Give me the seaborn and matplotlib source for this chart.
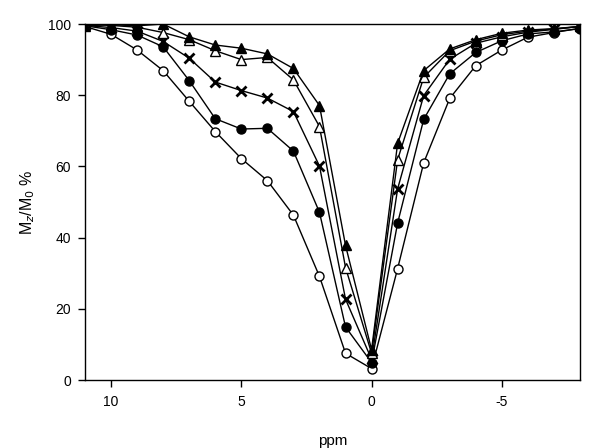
import matplotlib
matplotlib.use("Agg")
import matplotlib.pyplot as plt
import seaborn as sns
import pandas as pd

ppm = [11, 10, 9, 8, 7, 6, 5, 4, 3, 2, 1, 0, -1, -2, -3, -4, -5, -6, -7, -8]
open_circle = [99.3, 97.1, 92.7, 86.9, 78.3, 69.8, 62.2, 56.0, 46.3, 29.1, 7.5, 3.2,
               31.3, 61.0, 79.1, 88.3, 92.7, 96.3, 97.6, 98.8]
filled_circle = [99.5, 98.4, 96.9, 93.6, 84.1, 73.4, 70.5, 70.7, 64.3, 47.1, 14.9, 4.9,
                 44.1, 73.2, 86.0, 92.0, 95.3, 97.2, 97.8, 98.7]
cross = [99.6, 99.0, 98.0, 95.1, 90.4, 83.7, 81.3, 79.2, 75.4, 60.1, 22.7, 5.8,
         53.7, 79.9, 90.1, 94.6, 96.4, 97.7, 98.5, 99.3]
open_triangle = [100.0, 99.6, 99.1, 97.6, 95.6, 92.5, 90.0, 90.6, 84.3, 71.2, 31.6, 7.5,
                 61.9, 85.0, 92.5, 95.2, 97.0, 98.0, 98.6, 99.3]
filled_triangle = [99.5, 99.8, 99.5, 100.0, 96.4, 94.1, 93.2, 91.6, 87.5, 77.1, 37.8, 8.5,
                   66.5, 86.9, 93.0, 95.6, 97.4, 98.3, 98.7, 99.3]

series = [
    ("open_circle", open_circle, dict(marker="o", mfc="white", ms=6.5)),
    ("filled_circle", filled_circle, dict(marker="o", mfc="black", ms=6.5)),
    ("cross", cross, dict(marker="x", mfc="black", ms=7, mew=2.0)),
    ("open_triangle", open_triangle, dict(marker="^", mfc="white", ms=7.5)),
    ("filled_triangle", filled_triangle, dict(marker="^", mfc="black", ms=7.5)),
]

sns.set_theme(style="white")
plt.rcParams["font.family"] = ["Liberation Sans", "DejaVu Sans"]

fig = plt.figure(figsize=(6.0, 4.48), dpi=100)
ax = fig.add_axes([85/600, 68/448, 495/600, 356/448])

for name, vals, kw in series:
    df = pd.DataFrame({"ppm": ppm, "val": vals})
    mew = kw.pop("mew", 1.0)
    sns.lineplot(data=df, x="ppm", y="val", ax=ax, color="black", linewidth=1.0,
                 mec="black", mew=mew, sort=False, estimator=None, **kw)

ax.set_xlim(11, -8)
ax.set_ylim(0, 100)
ax.set_xticks([10, 5, 0, -5])
ax.set_xticklabels(["10", "5", "0", "-5"])
ax.set_yticks([0, 20, 40, 60, 80, 100])
for s in ax.spines.values():
    s.set_color("black")
    s.set_linewidth(1.0)
ax.tick_params(axis="both", direction="out", length=5, width=1, color="black",
               labelsize=10, labelcolor="black", bottom=True, left=True)
ax.tick_params(axis="x", pad=6)
ax.tick_params(axis="y", pad=5)
ax.set_xlabel("ppm", fontsize=11, labelpad=18, color="black")
ax.set_ylabel("M$_z$/M$_0$ %", fontsize=11.5, labelpad=8, color="black")
ax.grid(False)

fig.savefig("out.png", dpi=100)
